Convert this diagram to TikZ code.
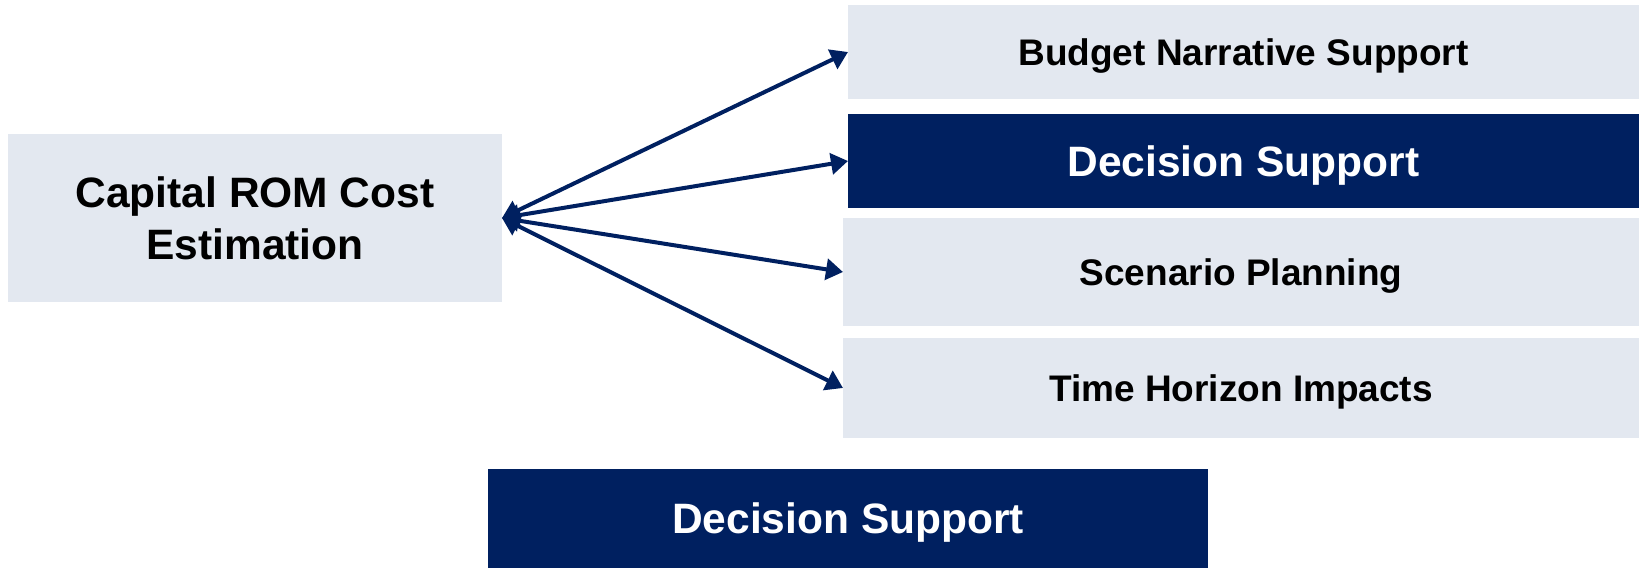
\documentclass[tikz,border=0pt]{standalone}
\usepackage{fontspec}
\setmainfont{Liberation Sans}
\usetikzlibrary{arrows.meta}
\definecolor{navy}{RGB}{0,32,96}
\definecolor{lightbox}{RGB}{227,232,240}
\tikzset{
  box/.style={inner sep=0pt, outer sep=0pt, align=center, font=\bfseries\fontsize{37}{45}\selectfont, text height=26.5pt, text depth=0pt},
  lightbox/.style={box, fill=lightbox, text=black},
  darkbox/.style={box, fill=navy, text=white, font=\bfseries\fontsize{42.5}{52}\selectfont, text height=30.4pt, text depth=0pt},
  srcbox/.style={inner sep=0pt, outer sep=0pt, align=center, fill=lightbox, text=black, font=\bfseries\fontsize{42.5}{52}\selectfont},
  link/.style={draw=navy, line width=4pt, {Triangle[length=17pt,width=21pt]}-{Triangle[length=17pt,width=21pt]}}
}
\begin{document}
\begin{tikzpicture}[x=1pt,y=-1pt]
\useasboundingbox (0,0) rectangle (1639,568);
\node[srcbox, minimum width=494pt, minimum height=168pt] (src) at (255,218) {Capital ROM Cost\\Estimation};
\node[lightbox, minimum width=791pt, minimum height=94pt] (b1) at (1243.5,52) {Budget Narrative Support};
\node[darkbox, minimum width=791pt, minimum height=94pt] (b2) at (1243.5,161) {Decision Support};
\node[lightbox, minimum width=796pt, minimum height=108pt] (b3) at (1241,272) {Scenario Planning};
\node[lightbox, minimum width=796pt, minimum height=100pt] (b4) at (1241,388) {Time Horizon Impacts};
\node[darkbox, minimum width=720pt, minimum height=99pt] (bot) at (848,518.5) {Decision Support};
\draw[link] (src.east) -- (b1.west);
\draw[link] (src.east) -- (b2.west);
\draw[link] (src.east) -- (b3.west);
\draw[link] (src.east) -- (b4.west);
\end{tikzpicture}
\end{document}
